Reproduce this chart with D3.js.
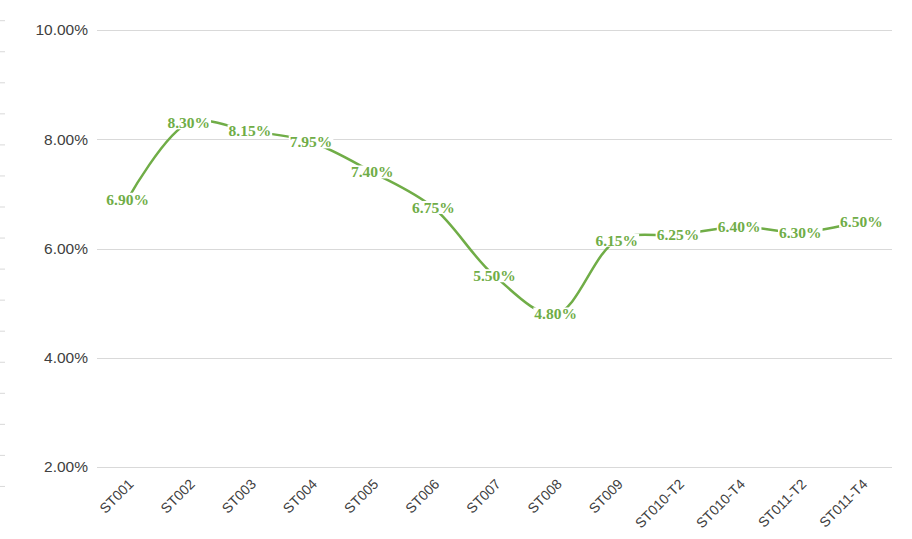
<!DOCTYPE html>
<html><head><meta charset="utf-8">
<script src="https://cdn.jsdelivr.net/npm/d3@7"></script>
<style>body{margin:0;background:#fff}svg{display:block}</style>
</head><body>
<svg id="c" width="912" height="539"></svg>
<script>
const categories = ["ST001","ST002","ST003","ST004","ST005","ST006","ST007","ST008","ST009","ST010-T2","ST010-T4","ST011-T2","ST011-T4"];
const values = [6.90, 8.30, 8.15, 7.95, 7.40, 6.75, 5.50, 4.80, 6.15, 6.25, 6.40, 6.30, 6.50];
const yTicks = [2, 4, 6, 8, 10];

const svg = d3.select("#c");
const W = 912, H = 539;
const m = {left: 97, right: 20, top: 30, bottom: 72};
const x = d3.scaleBand().domain(categories).range([m.left, W - m.right]);
const y = d3.scaleLinear().domain([2, 10]).range([H - m.bottom, m.top]);

// faint left-edge dashes
const g0 = svg.append("g");
d3.range(16).forEach(i => {
  g0.append("line").attr("x1", 0).attr("x2", 5)
    .attr("y1", 20.7 + i * 31.05).attr("y2", 20.7 + i * 31.05)
    .attr("stroke", "#d9d9d9").attr("stroke-width", 1);
});

// gridlines
svg.append("g").selectAll("line").data(yTicks).join("line")
  .attr("x1", m.left).attr("x2", W - m.right)
  .attr("y1", d => Math.round(y(d)) + 0.5).attr("y2", d => Math.round(y(d)) + 0.5)
  .attr("stroke", "#d9d9d9").attr("stroke-width", 1);

// y labels
svg.append("g").selectAll("text").data(yTicks).join("text")
  .attr("x", 88).attr("y", d => y(d)).attr("dy", "0.35em")
  .attr("text-anchor", "end")
  .attr("font-family", "Liberation Sans, Arial, sans-serif").attr("font-size", 15.5)
  .attr("fill", "#404040")
  .text(d => d.toFixed(2) + "%");

// x labels
svg.append("g").selectAll("text").data(categories).join("text")
  .attr("transform", d => `translate(${x(d) + x.bandwidth()/2 + 7},${H - m.bottom + 18}) rotate(-45)`)
  .attr("text-anchor", "end")
  .attr("font-family", "Liberation Sans, Arial, sans-serif").attr("font-size", 14)
  .attr("fill", "#404040")
  .text(d => d);

// line
const line = d3.line()
  .x((d, i) => x(categories[i]) + x.bandwidth()/2)
  .y(d => y(d))
  .curve(d3.curveCatmullRom.alpha(0.5));
svg.append("path").datum(values)
  .attr("d", line).attr("fill", "none")
  .attr("stroke", "#70ad47").attr("stroke-width", 2.5);

// data labels
const lg = svg.append("g").selectAll("g").data(values).join("g")
  .attr("transform", (d, i) => `translate(${x(categories[i]) + x.bandwidth()/2},${y(d)})`);
lg.append("text")
  .attr("text-anchor", "middle").attr("dy", "0.35em")
  .attr("font-family", "Liberation Serif, 'Times New Roman', serif")
  .attr("font-weight", "bold").attr("font-size", 15.5)
  .attr("fill", "#70ad47")
  .text(d => d.toFixed(2) + "%");
lg.each(function() {
  const g = d3.select(this);
  const b = g.select("text").node().getBBox();
  g.insert("rect", "text").attr("x", b.x - 1).attr("y", b.y + 2)
    .attr("width", b.width + 2).attr("height", b.height - 4).attr("fill", "#fff");
});
</script>
</body></html>
